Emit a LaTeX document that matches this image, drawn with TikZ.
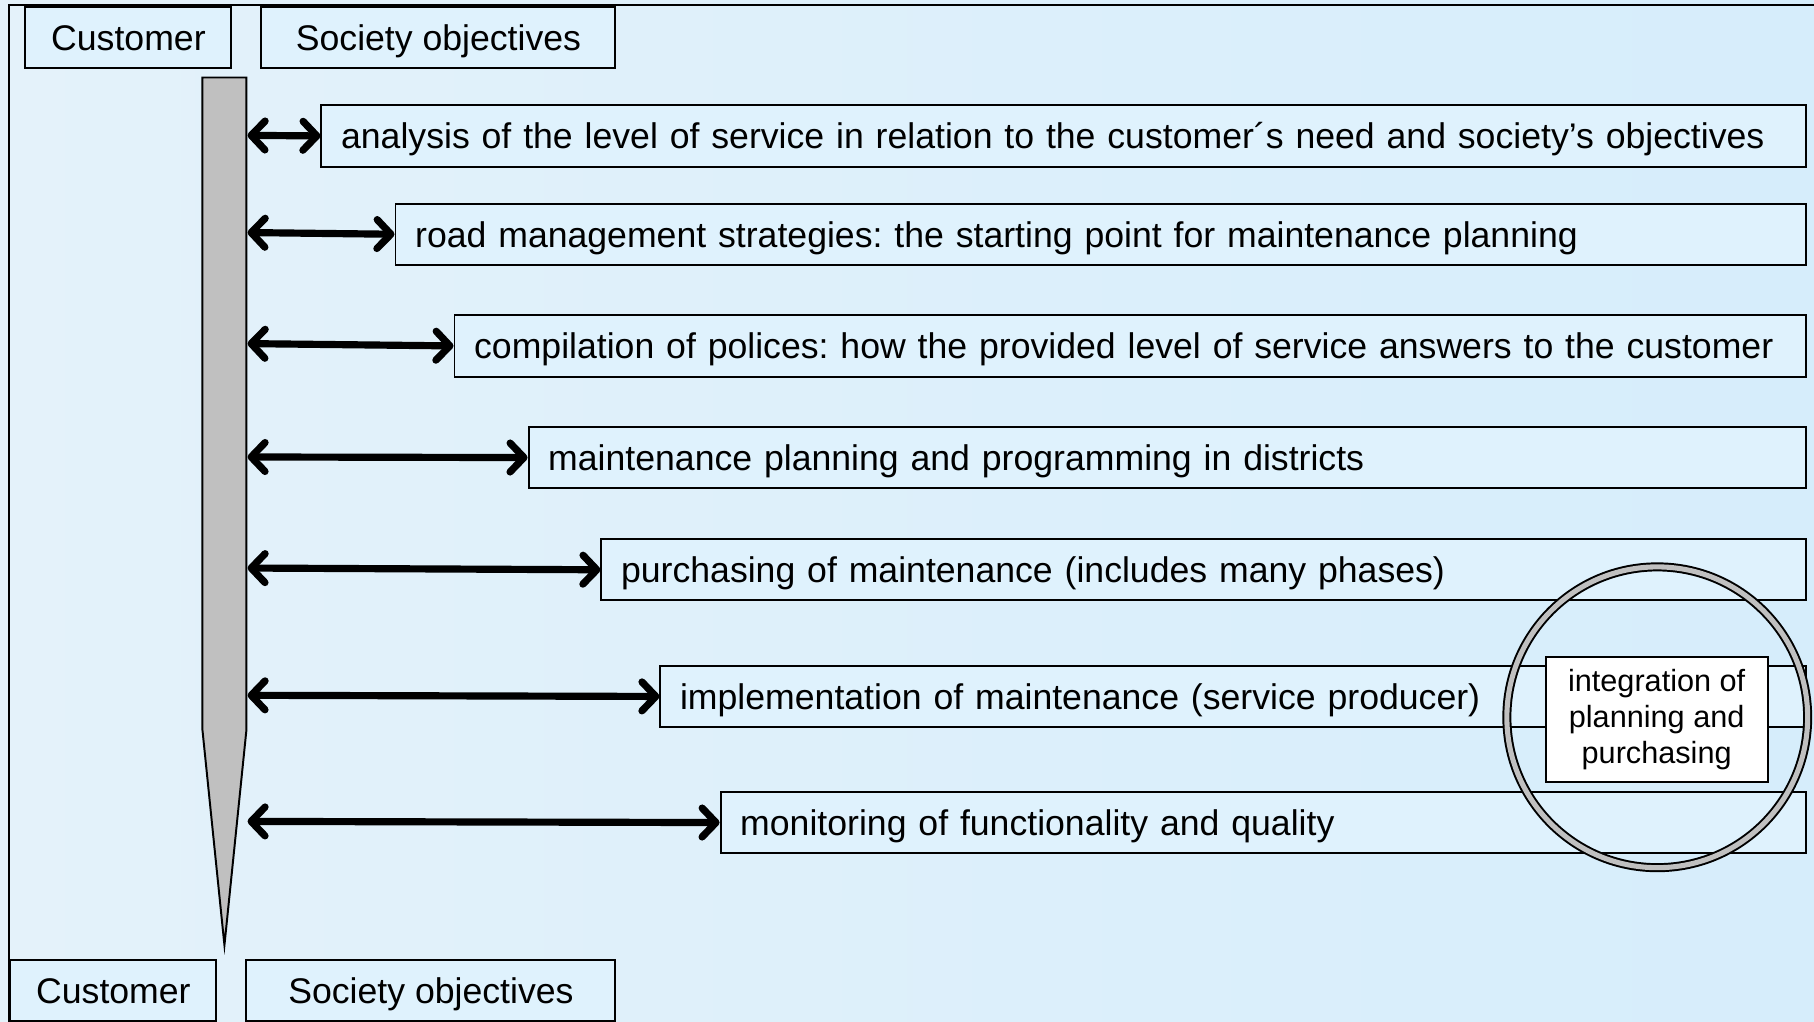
\documentclass[tikz,border=0pt]{standalone}
\usepackage{fontspec}
\setmainfont{Liberation Sans}
\usetikzlibrary{arrows.meta}
\definecolor{bgL}{RGB}{228,242,250}
\definecolor{bgR}{RGB}{214,237,251}
\definecolor{boxfill}{RGB}{223,242,253}
\definecolor{bargray}{RGB}{192,192,192}
\tikzset{
  lbl/.style={draw=black, line width=1.7pt, fill=boxfill, minimum height=53pt,
    inner ysep=0pt, text height=22.5pt, text depth=0pt,
    font=\fontsize{30.8}{36}\selectfont\frenchspacing},
  rowbox/.style={lbl, anchor=west, inner xsep=17pt, align=left},
  barb/.tip={Straight Barb[length=12pt,width=25pt,line cap=round,line join=round]},
  dbl/.style={line width=6.2pt, barb-barb},
}
\begin{document}
\begin{tikzpicture}[x=1pt,y=-1pt]
\useasboundingbox (0,0) rectangle (1568,883);
\shade[left color=bgL, right color=bgR] (0,0) rectangle (1568,883);
\draw[line width=1.8pt] (8,884) -- (8,4) -- (1569,4);

% header / footer
\node[lbl, minimum width=178pt] (custT) at (111,32.5) {Customer};
\node[lbl, minimum width=306pt] (socT) at (379,32.5) {Society objectives};
\node[lbl, minimum width=178pt] (custB) at (98,856) {Customer};
\node[lbl, minimum width=319pt] (socB) at (372.5,856) {Society objectives};

% bar
\draw[line width=1.7pt, fill=bargray] (175,67) -- (213,67) -- (213,631) -- (194,817) -- (175,631) -- cycle;
\foreach \i/\y in {1/117,2/201,3/297,4/395,5/491,6/601,7/710}{
  \coordinate (b\i) at (214,\y);
}

% rows
\node[rowbox, text width={1560-277-34}] (r1) at (277,117.5) {\mbox{analysis of the level of service in relation to the customer´s need and society’s objectives}};
\node[rowbox, text width={1560-341-34}] (r2) at (341,202.5) {\mbox{road management strategies: the starting point for maintenance planning}};
\node[rowbox, text width={1560-392-34}] (r3) at (392,299) {\mbox{compilation of polices: how the provided level of service answers to the customer}};
\node[rowbox, text width={1560-456-34}] (r4) at (456,395.5) {\mbox{maintenance planning and programming in districts}};
\node[rowbox, text width={1560-519-34}] (r5) at (519,492.5) {\mbox{purchasing of maintenance (includes many phases)}};
\node[rowbox, text width={1560-570-34}] (r6) at (570,602) {\mbox{implementation of maintenance (service producer)}};
\node[rowbox, text width={1560-622-34}] (r7) at (622,711) {\mbox{monitoring of functionality and quality}};

\foreach \i in {1,...,7}{
  \draw[dbl] (b\i) -- (r\i.west);
}

% circle and integration box
\node[circle, draw=black, line width=1.7pt, double=bargray, double distance=4.4pt,
  minimum size=260pt, inner sep=0pt] (ring) at (1432.5,620) {};
\node[draw=black, line width=1.7pt, fill=white, minimum width=192pt, minimum height=108pt,
  inner sep=0pt, align=center, font=\fontsize{26.5}{31}\selectfont] (integ) at (1432,622)
  {integration of\\planning and\\purchasing};
\end{tikzpicture}
\end{document}
